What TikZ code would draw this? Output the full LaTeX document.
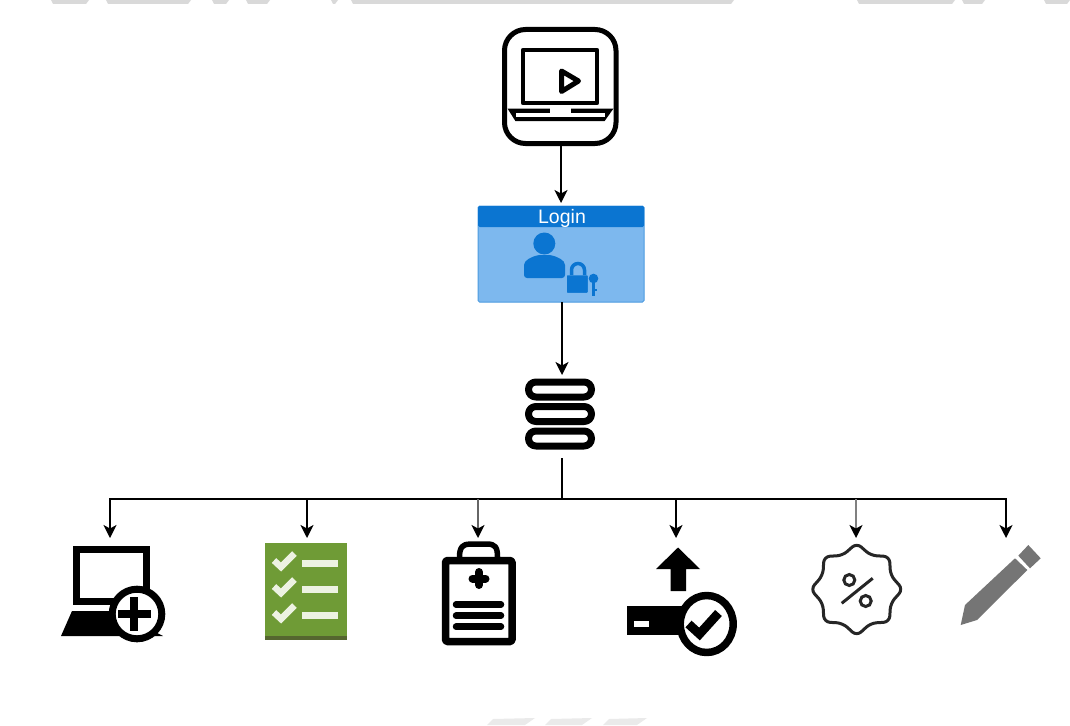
\documentclass[tikz,border=0pt]{standalone}
\usepackage{fontspec}
\setmainfont{Liberation Sans}
\usetikzlibrary{arrows.meta,calc}
\definecolor{hdrblue}{HTML}{0B75D1}
\definecolor{bodyblue}{HTML}{7DB8EE}
\definecolor{edgeblue}{HTML}{4C9BE0}
\definecolor{chkgreen}{HTML}{6F9B36}
\definecolor{chkdark}{HTML}{55662F}
\definecolor{chkwhite}{HTML}{EDF2E2}
\definecolor{pencilgrey}{HTML}{757575}
\definecolor{scanA}{HTML}{D9D9D9}
\definecolor{scanB}{HTML}{EAEAEA}
\tikzset{
  slot/.style={inner sep=0pt,outer sep=0pt,minimum width=#1},
  wire/.style={line width=1.6pt,black},
  tipped/.style={wire,-{Stealth[length=13pt,width=13pt,inset=3.5pt,color=black]}},
  softwire/.style={tipped,draw=#1},
  ink/.style={draw=black,line join=round},
}
\begin{document}
\begin{tikzpicture}[x=1pt,y=-1pt]
\fill[white] (0,0) rectangle (1070,725);
\useasboundingbox (0,0) rectangle (1070,725);

% scan remnants at the edges
\foreach \a/\b in {51/89,106/191,212/229,246/270,331/338,351/734,857/955,962/985,1044/1070}
  \fill[scanA] (\a,0) -- (\b,0) -- (\b-3,4) -- (\a+2,4) -- cycle;
\foreach \a/\b in {487/535,545/592,603/647}
  \fill[scanB] (\a,725) -- (\a+6,719) -- (\b,718) -- (\b-10,725) -- cycle;

% anchor nodes
\node[slot=116pt,minimum height=119pt] (player) at (561,86.5) {};
\node[slot=166pt,minimum height=96pt,fill=bodyblue,draw=edgeblue,line width=1pt,rounded corners=1.5pt] (login) at (561,254) {};
\node[slot=70pt,minimum height=83pt] (db) at (562,416.5) {};
\coordinate (bus) at (562,499);
\node[slot=100pt,minimum height=105pt,anchor=north] (newlaptop) at (110,538) {};
\node[slot=82pt,minimum height=102pt,anchor=north] (checklist) at (307,538) {};
\node[slot=74pt,minimum height=107pt,anchor=north] (clipboard) at (478,538) {};
\node[slot=80pt,minimum height=118pt,anchor=north] (upload) at (676,538) {};
\node[slot=90pt,minimum height=98pt,anchor=north] (badge) at (856,538) {};
\node[slot=80pt,minimum height=87pt,anchor=north] (pencil) at (1006,538) {};

% player icon
\draw[ink,line width=5pt] (504.5,29.5) [rounded corners=21pt] -- (616,29.5) -- (616,143.5) -- (504.5,143.5) -- cycle;
\draw[ink,line width=4.2pt] (523,50) rectangle (597,103);
\draw[ink,line width=5pt] (561.5,71) -- (578.5,81) -- (561.5,91.5) -- cycle;
\fill[black] (507.5,108.5) -- (613.5,108.5) -- (604.5,121.2) -- (515.5,121.2) -- cycle;
\fill[white] (516,113) rectangle (604.5,116.8);
\fill[white] (550,107) rectangle (571,113);

% login box
\fill[hdrblue,rounded corners=1.5pt] (478,206) -- (644,206) -- (644,227) -- (478,227) -- cycle;
\node[text=white,font=\fontsize{19.5}{22}\selectfont,inner sep=0pt] (logintitle) at (562,218.5) {Login};
\fill[hdrblue] (544.3,243.5) circle (11);
\fill[hdrblue,rounded corners=3pt] (524,278) -- (524,268) .. controls (524,260) and (532,257) .. (538,255) -- (551,255) .. controls (557,257) and (565,260) .. (565,268) -- (565,278) -- cycle;
\fill[hdrblue,draw=bodyblue,line width=1.5pt,rounded corners=1pt] (566,274.5) rectangle (588.5,293.5);
\draw[hdrblue,line width=3.5pt] (571.5,275) -- (571.5,270) arc[start angle=180,end angle=360,radius=6.5] -- (584.5,275);
\fill[hdrblue] (593.5,278.5) circle (4.8);
\draw[hdrblue,line width=2.8pt] (593.5,280) -- (593.5,295.5);
\draw[hdrblue,line width=2pt] (593.5,290) -- (597,290);

% database icon
\foreach \t in {382,406.5,431}
  \draw[ink,line width=7pt] (528.5,\t) [rounded corners=7.4pt] -- (591.5,\t) -- (591.5,\t+15) -- (528.5,\t+15) -- cycle;

% new laptop icon
\draw[ink,line width=7pt,line join=miter] (76.5,549.5) rectangle (146.5,601.5);
\fill[black] (72,611) -- (115,611) -- (163,636) -- (61,636) -- cycle;
\draw[ink,fill=white,line width=7pt] (137,614) circle (24.8);
\fill[black] (117.5,610) rectangle (150.5,618);
\fill[black] (130,597) rectangle (138,631);

% checklist icon
\fill[chkgreen] (265,543) rectangle (347,636);
\fill[chkdark] (265,636) rectangle (347,640);
\foreach \d in {0,26,52}{
  \draw[chkwhite,line width=6.5pt] (274,560.5+\d) -- (281,567+\d) -- (294.5,553.5+\d);
  \fill[chkwhite] (302,560+\d) rectangle (338,567+\d);
}

% clipboard icon
\draw[ink,line width=5.5pt] (459.5,557) .. controls (459.5,547) and (463,544) .. (470,544) -- (487,544) .. controls (495,544) and (497.5,547) .. (497.5,557);
\draw[ink,fill=white,line width=7.5pt,rounded corners=1.5pt] (445.5,560.5) rectangle (512,641.5);
\draw[black,line width=8pt,line cap=round] (472.5,578.5) -- (485.5,578.5);
\draw[black,line width=8pt,line cap=round] (479,572) -- (479,585);
\foreach \l in {604.5,615.7,626.7}
  \draw[black,line width=6.5pt,line cap=round] (456,\l) -- (501,\l);

% upload-check icon
\fill[black] (678,547.5) -- (700,569) -- (686,569) -- (686,591) -- (670.5,591) -- (670.5,569) -- (656,569) -- cycle;
\fill[black] (627,606) rectangle (690,635);
\fill[white] (634,620.7) rectangle (649,627.3);
\draw[ink,fill=white,line width=7.5pt] (706.7,624) ellipse (26.5 and 28.5);
\draw[black,line width=9pt,line join=miter] (688.5,624) -- (699.5,634) -- (718.5,613);

% badge icon
\draw[draw=black!85,line width=3pt,rounded corners=6pt] (856.7,543) -- (870.7,555.5) -- (889.5,556.5) -- (890.5,575.3) -- (903,589.3) -- (890.5,603.3) -- (889.5,622) -- (870.7,623.1) -- (856.7,636) -- (842.7,623.1) -- (824,622) -- (822.9,603.3) -- (810.5,589.3) -- (822.9,575.3) -- (824,556.5) -- (842.7,555.5) -- cycle;
\draw[black!85,line width=3pt] (841.7,603.3) -- (872.7,578.3);
\draw[black!85,line width=3pt] (849.3,580) circle (5.5);
\draw[black!85,line width=3pt] (865.7,601) circle (5.5);

% pencil icon
\fill[pencilgrey] (1028.3,545) -- (1040.7,558.3) -- (1030,568.3) -- (1018.3,555.7) -- cycle;
\fill[pencilgrey] (1015,558.3) -- (1027.3,570) -- (977,620) -- (960.7,625) -- (965,605) -- cycle;

% connectors
\draw[tipped,shorten >=3pt] (player.south) -- (login.north);
\draw[tipped] (db.north |- login.south) -- (db.north);
\draw[wire] (db.south) -- (bus);
\draw[tipped] (bus) -| (newlaptop.north);
\draw[tipped] (bus) -| (pencil.north);
\draw[tipped] (bus -| checklist.north) -- (checklist.north);
\draw[softwire=black!60] (bus -| clipboard.north) -- (clipboard.north);
\draw[tipped] (bus -| upload.north) -- (upload.north);
\draw[softwire=black!50] (bus -| badge.north) -- (badge.north);
\end{tikzpicture}
\end{document}
